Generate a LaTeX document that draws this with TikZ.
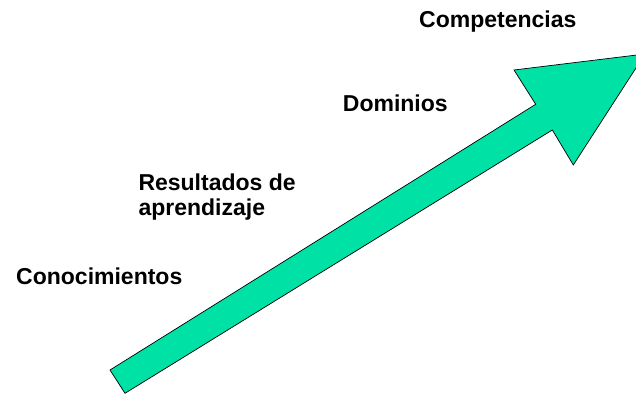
\documentclass[tikz,border=0pt]{standalone}
\usepackage{fontspec}
\setmainfont{Liberation Sans}
\definecolor{arrowgreen}{RGB}{0,225,165}
\begin{document}
\begin{tikzpicture}[x=1pt,y=-1pt,
  lbl/.style={anchor=base west,inner sep=0pt,font=\fontsize{23}{24.7}\selectfont\bfseries,align=left},
  bigarrow/.style={fill=arrowgreen,draw=black,line width=0.7pt,line join=miter}]
\useasboundingbox (0,0) rectangle (636,395);
\begin{scope}
\clip (0,0) rectangle (636,395);
\draw[bigarrow] (110,370) -- (535.7,104.3) -- (514,70) -- (645,54) -- (573.3,165) -- (552.3,130) -- (125,393.3) -- cycle;
\end{scope}
\node[lbl] (comp) at (419,27.7) {Competencias};
\node[lbl] (dom) at (342.7,111.7) {Dominios};
\node[lbl] (res) at (138.3,215.7) {Resultados de\\aprendizaje};
\node[lbl] (con) at (16,284.3) {Conocimientos};
\end{tikzpicture}
\end{document}
